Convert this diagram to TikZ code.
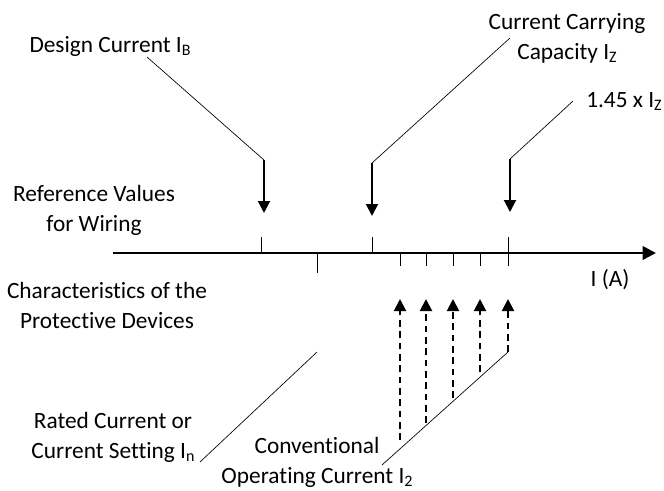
\documentclass[tikz,border=0pt]{standalone}
\usepackage{fontspec}
\setmainfont[Ligatures=NoCommon]{Carlito}
\usetikzlibrary{arrows.meta}
\newcommand{\lowidx}[1]{\raisebox{-0.3ex}{\fontsize{12}{12}\selectfont #1}}
\begin{document}
\begin{tikzpicture}[x=0.75pt,y=-0.75pt,font=\fontsize{17.5}{22.5}\selectfont,line join=round,
	lbl/.style={align=center,inner sep=0pt},
	leader/.style={line width=0.5pt},
	valarrow/.style={line width=1.5pt,-{Triangle[width=9pt,length=9pt]}},
	devarrow/.style={valarrow,dash pattern=on 5pt off 3.5pt},
	tick/.style={line width=0.6pt}]
	\useasboundingbox (0,0) rectangle (664,490);
	% current axis
	\coordinate (axl) at (113,253);
	\coordinate (axr) at (656,253);
	\draw[line width=2pt,-{Triangle[width=10pt,length=10pt]}] (axl)--(axr);
	\node[lbl] (ia) at (610,280) {I (A)};
	% ticks
	\foreach \x in {261,372,508} \draw[tick] (\x,237)--(\x,253);
	\foreach \x in {400,426,453,480,508} \draw[tick] (\x,253)--(\x,266);
	\draw[tick] (317,253)--(317,273);
	% reference values for wiring
	\node[lbl] (refw) at (94,210) {Reference Values\\for Wiring};
	\node[lbl,anchor=base] (ib) at (110,52) {Design Current I\lowidx{B}};
	\node[lbl] (iz) at (567,38) {Current Carrying\\Capacity I\lowidx{Z}};
	\node[lbl,anchor=base west] (iz2) at (586,107) {1.45 x I\lowidx{Z}};
	\coordinate (ibfoot) at (147,57);
	\coordinate (ibtop) at (264,160);
	\coordinate (ibtip) at (264,213);
	\coordinate (izfoot) at (510,38);
	\coordinate (iztop) at (372,163);
	\coordinate (iztip) at (372,216);
	\coordinate (iz2foot) at (573,101);
	\coordinate (iz2top) at (510,159);
	\coordinate (iz2tip) at (510,212);
	\draw[leader] (ibfoot)--(ibtop);
	\draw[leader] (izfoot)--(iztop);
	\draw[leader] (iz2foot)--(iz2top);
	\draw[valarrow] (ibtop)--(ibtip);
	\draw[valarrow] (iztop)--(iztip);
	\draw[valarrow] (iz2top)--(iz2tip);
	% characteristics of the protective devices
	\node[lbl] (prot) at (107,305) {Characteristics of the\\Protective Devices};
	\node[lbl] (in) at (113,437) {Rated Current or\\Current Setting I\lowidx{n}};
	\node[lbl] (i2) at (317,462) {Conventional\\Operating Current I\lowidx{2}};
	\coordinate (infoot) at (200,462);
	\coordinate (intop) at (317,352);
	\draw[leader] (infoot)--(intop);
	\coordinate (i2foot) at (382,465);
	\coordinate (i2top) at (508,352);
	\draw[leader] (i2foot)--(i2top);
	\foreach \x/\y in {400/440,426/423,453/398,480/372,508/352}
		\draw[devarrow] (\x,\y)--(\x,299);
\end{tikzpicture}
\end{document}
